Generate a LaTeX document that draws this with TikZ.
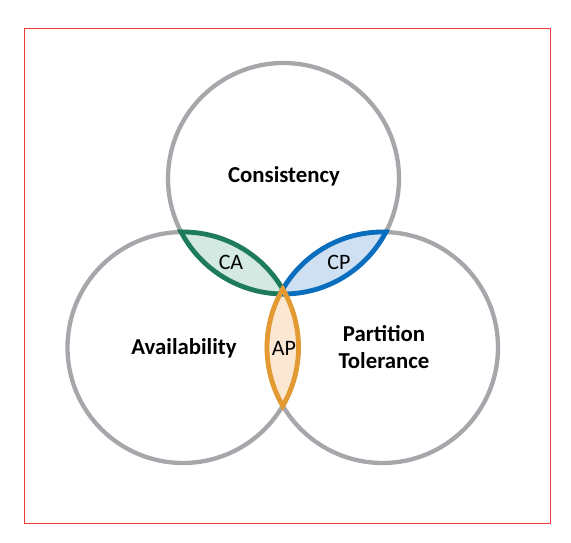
\documentclass[tikz,border=0pt]{standalone}
\usepackage{fontspec}
\setmainfont{Carlito}
\definecolor{ringgray}{HTML}{A7A7AB}
\definecolor{cagreen}{HTML}{1E7B5C}
\definecolor{cafill}{HTML}{D3E9E2}
\definecolor{cpblue}{HTML}{0A6EBF}
\definecolor{cpfill}{HTML}{CFE0F2}
\definecolor{aporange}{HTML}{E39A32}
\definecolor{apfill}{HTML}{FCE8D2}
\definecolor{frame}{HTML}{F03A3A}
\tikzset{
  ring/.style={draw=ringgray, line width=4.3pt},
  lensline/.style={line width=4.8pt},
  bigtxt/.style={font=\fontsize{22.8}{27}\selectfont\bfseries, align=center, inner sep=0pt},
  smalltxt/.style={font=\fontsize{22}{26}\selectfont, inner sep=0pt}
}
\begin{document}
\begin{tikzpicture}[x=1pt,y=-1pt]
\useasboundingbox (0,0) rectangle (571,543);
\draw[frame, line width=1pt] (24.5,28.5) rectangle (550.5,523);
\coordinate (T) at (283.5,178.5);
\coordinate (L) at (183,347.5);
\coordinate (R) at (382.5,347.5);
% circles
\draw[ring] (T) circle (115.5);
\draw[ring] (L) circle (115.5);
\draw[ring] (R) circle (115.5);
% fills
\begin{scope}\clip (T) circle (115.5); \fill[cafill] (L) circle (115.5);\end{scope}
\begin{scope}\clip (T) circle (115.5); \fill[cpfill] (R) circle (115.5);\end{scope}
\begin{scope}\clip (L) circle (115.5); \fill[apfill] (R) circle (115.5);\end{scope}
% CA outline
\begin{scope}\clip (T) circle (117.9); \draw[lensline, cagreen] (L) circle (115.5);\end{scope}
\begin{scope}\clip (L) circle (117.9); \draw[lensline, cagreen] (T) circle (115.5);\end{scope}
% CP outline
\begin{scope}\clip (T) circle (117.9); \draw[lensline, cpblue] (R) circle (115.5);\end{scope}
\begin{scope}\clip (R) circle (117.9); \draw[lensline, cpblue] (T) circle (115.5);\end{scope}
% AP outline
\begin{scope}\clip (L) circle (117.9); \draw[lensline, aporange] (R) circle (115.5);\end{scope}
\begin{scope}\clip (R) circle (117.9); \draw[lensline, aporange] (L) circle (115.5);\end{scope}
% labels
\node[bigtxt] (cons) at (284,176) {Consistency};
\node[bigtxt] (avail) at (184,348) {Availability};
\node[bigtxt] (part) at (384,347) {Partition\\Tolerance};
\node[smalltxt] (ca) at (231,262) {CA};
\node[smalltxt] (cp) at (339,262) {CP};
\node[smalltxt] (ap) at (284,348) {AP};
\end{tikzpicture}
\end{document}
